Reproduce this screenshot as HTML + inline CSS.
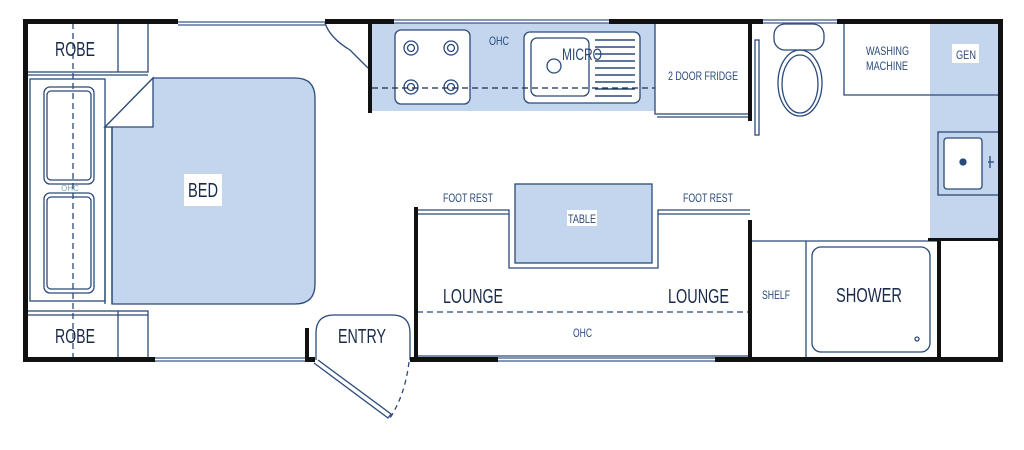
<!DOCTYPE html>
<html><head><style>html,body{margin:0;padding:0;background:#fff;width:1024px;height:450px;overflow:hidden}</style></head>
<body>
<svg width="1024" height="450" viewBox="0 0 1024 450" xmlns="http://www.w3.org/2000/svg" font-family="Liberation Sans, sans-serif" fill="none" stroke="#2a4a7a" stroke-width="1.3">
<rect x="372" y="23" width="283" height="88" fill="#c4d6ee" stroke="none"/>
<rect x="930" y="23" width="70" height="218" fill="#c4d6ee" stroke="none"/>
<path d="M153,78 H295 Q315,78 315,98 V284 Q315,304 295,304 H112 V127 H105 Z" fill="#c4d6ee" stroke="#2a4a7a"/>
<path d="M105,127 L153,78 V127 Z" fill="#fff"/>
<rect x="515" y="184" width="137" height="79" fill="#c4d6ee"/>
<rect x="27" y="23" width="121" height="49"/><line x1="118" y1="23" x2="118" y2="72"/>
<rect x="27" y="311" width="121" height="47"/><line x1="118" y1="311" x2="118" y2="358"/>
<line x1="27" y1="315" x2="148" y2="315"/>
<line x1="27" y1="75" x2="148" y2="75"/>
<rect x="30" y="79" width="75" height="222"/><line x1="105" y1="127" x2="105" y2="304"/><line x1="112" y1="127" x2="112" y2="304"/>
<rect x="44" y="87" width="50" height="97" rx="6"/><rect x="47" y="91" width="44" height="89" rx="4"/>
<rect x="44" y="193" width="50" height="100" rx="6"/><rect x="47" y="197" width="44" height="92" rx="4"/>
<line x1="73" y1="23" x2="73" y2="360" stroke-dasharray="6,4"/>
<text x="70" y="191" font-size="8" fill="#8aa" stroke="none" text-anchor="middle">OHC</text>
<rect x="395" y="30" width="75" height="74" rx="6" fill="#fff"/>
<g fill="none"><circle cx="411" cy="48" r="7"/><circle cx="411" cy="48" r="3.5"/><circle cx="451" cy="48" r="7"/><circle cx="451" cy="48" r="3.5"/><circle cx="411" cy="87" r="7"/><circle cx="411" cy="87" r="3.5"/><circle cx="451" cy="87" r="7"/><circle cx="451" cy="87" r="3.5"/></g>
<rect x="524" y="32" width="116" height="71" rx="6" fill="#fff"/>
<rect x="531" y="38" width="58" height="58" rx="6"/><circle cx="554" cy="66" r="7"/>
<g stroke-width="1.6"><line x1="595" y1="40" x2="635" y2="40"/><line x1="595" y1="47" x2="635" y2="47"/><line x1="595" y1="54" x2="635" y2="54"/><line x1="595" y1="61" x2="635" y2="61"/><line x1="595" y1="68" x2="635" y2="68"/><line x1="595" y1="75" x2="635" y2="75"/><line x1="595" y1="82" x2="635" y2="82"/><line x1="595" y1="89" x2="635" y2="89"/><line x1="595" y1="96" x2="632" y2="96"/></g>
<line x1="372" y1="88" x2="655" y2="88" stroke-dasharray="6,4" stroke="#1a2a4a"/>
<g fill="#2a4a7a" stroke="none" lengthAdjust="spacingAndGlyphs">
<text x="489" y="45" font-size="12" textLength="20" lengthAdjust="spacingAndGlyphs">OHC</text>
<text x="562" y="60" font-size="17" textLength="40" lengthAdjust="spacingAndGlyphs">MICRO</text>
<text x="668" y="80" font-size="12" textLength="70" lengthAdjust="spacingAndGlyphs">2 DOOR FRIDGE</text>
<text x="866" y="55" font-size="12" textLength="43" lengthAdjust="spacingAndGlyphs">WASHING</text>
<text x="866" y="70" font-size="12" textLength="42" lengthAdjust="spacingAndGlyphs">MACHINE</text>
<text x="776" y="299" font-size="12" textLength="28" lengthAdjust="spacingAndGlyphs" x-dummy="" transform="translate(-14,0)">SHELF</text>
<text x="443" y="202" font-size="12" textLength="50" lengthAdjust="spacingAndGlyphs">FOOT REST</text>
<text x="683" y="202" font-size="12" textLength="50" lengthAdjust="spacingAndGlyphs">FOOT REST</text>
<text x="573" y="337" font-size="12" textLength="19" lengthAdjust="spacingAndGlyphs">OHC</text>
</g>
<rect x="655" y="23" width="95" height="91"/><line x1="657" y1="117" x2="750" y2="117"/>
<rect x="755" y="40" width="4" height="95"/>
<rect x="774" y="24" width="50" height="26" rx="11"/><ellipse cx="800" cy="83" rx="22" ry="33"/><ellipse cx="800" cy="84" rx="18" ry="29"/>
<path d="M844,23 V95 H1000"/>
<rect x="952" y="44" width="27" height="19" fill="#fff" stroke="none"/>
<text x="956" y="59" font-size="12" fill="#2a4a7a" stroke="none" textLength="20" lengthAdjust="spacingAndGlyphs">GEN</text>
<rect x="938" y="132" width="62" height="63"/><rect x="944" y="138" width="38" height="51" rx="3" fill="#fff"/>
<circle cx="963" cy="162" r="3" fill="#2a4a7a"/><line x1="988" y1="162" x2="994" y2="162"/><line x1="990" y1="156" x2="990" y2="168"/>
<line x1="750" y1="241" x2="940" y2="241"/>
<line x1="806" y1="241" x2="806" y2="358"/>
<rect x="812" y="247" width="118" height="105" rx="9"/><circle cx="917" cy="339" r="2"/>
<path d="M417,210 H509 V268 H658 V210 H750"/><path d="M417,214 H509"/><path d="M658,214 H750"/>
<line x1="417" y1="312" x2="750" y2="312" stroke-dasharray="6,4"/>
<line x1="417" y1="356" x2="750" y2="356"/>
<rect x="567" y="210" width="30" height="16" fill="#fff" stroke="none"/>
<text x="568" y="223" font-size="12" fill="#2a4a7a" stroke="none" textLength="28" lengthAdjust="spacingAndGlyphs">TABLE</text>
<rect x="184" y="174" width="38" height="32" fill="#fff" stroke="none"/>
<g fill="#1a2a4a" stroke="none" font-size="20">
<text x="188" y="197" textLength="30" lengthAdjust="spacingAndGlyphs">BED</text>
<text x="55" y="56" textLength="40" lengthAdjust="spacingAndGlyphs">ROBE</text>
<text x="55" y="343" textLength="40" lengthAdjust="spacingAndGlyphs">ROBE</text>
<text x="338" y="343" textLength="48" lengthAdjust="spacingAndGlyphs">ENTRY</text>
<text x="443" y="303" textLength="60" lengthAdjust="spacingAndGlyphs">LOUNGE</text>
<text x="668" y="303" textLength="61" lengthAdjust="spacingAndGlyphs">LOUNGE</text>
<text x="836" y="302" textLength="66" lengthAdjust="spacingAndGlyphs">SHOWER</text>
</g>
<path d="M316,360 V333 Q316,315 334,315 H392 Q410,315 410,333 V360"/>
<path d="M314,363 L388,418 L391,414 L318,360"/>
<path d="M409,362 Q405,395 390,418" stroke-dasharray="5,4"/>
<path d="M325,23 Q330,38 350,50 L368,68"/>
<g stroke="#3a5a8a"><line x1="178" y1="22" x2="325" y2="22"/><line x1="178" y1="25" x2="325" y2="25"/>
<line x1="394" y1="20" x2="609" y2="20"/><line x1="394" y1="23" x2="609" y2="23"/>
<line x1="763" y1="20" x2="837" y2="20"/><line x1="763" y1="23" x2="837" y2="23"/>
<line x1="155" y1="358" x2="305" y2="358"/><line x1="155" y1="361" x2="305" y2="361"/>
<line x1="498" y1="358" x2="715" y2="358"/><line x1="498" y1="361" x2="715" y2="361"/></g>
<g fill="#111" stroke="none">
<rect x="23" y="20" width="5" height="342"/>
<rect x="998" y="20" width="5" height="342"/>
<rect x="23" y="19" width="155" height="5"/>
<rect x="325" y="19" width="69" height="5"/>
<rect x="609" y="19" width="154" height="5"/>
<rect x="837" y="19" width="166" height="5"/>
<rect x="23" y="357" width="132" height="5"/>
<rect x="305" y="357" width="10" height="5"/>
<rect x="410" y="357" width="88" height="5"/>
<rect x="715" y="357" width="288" height="5"/>
<rect x="368" y="20" width="4" height="93"/>
<rect x="748" y="20" width="4" height="101"/>
<rect x="414" y="207" width="4" height="154"/>
<rect x="748" y="220" width="4" height="141"/>
<rect x="937" y="239" width="4" height="120"/>
<rect x="928" y="238" width="75" height="3"/>
<rect x="305" y="328" width="4" height="32"/>
</g>
</svg>
</body></html>
